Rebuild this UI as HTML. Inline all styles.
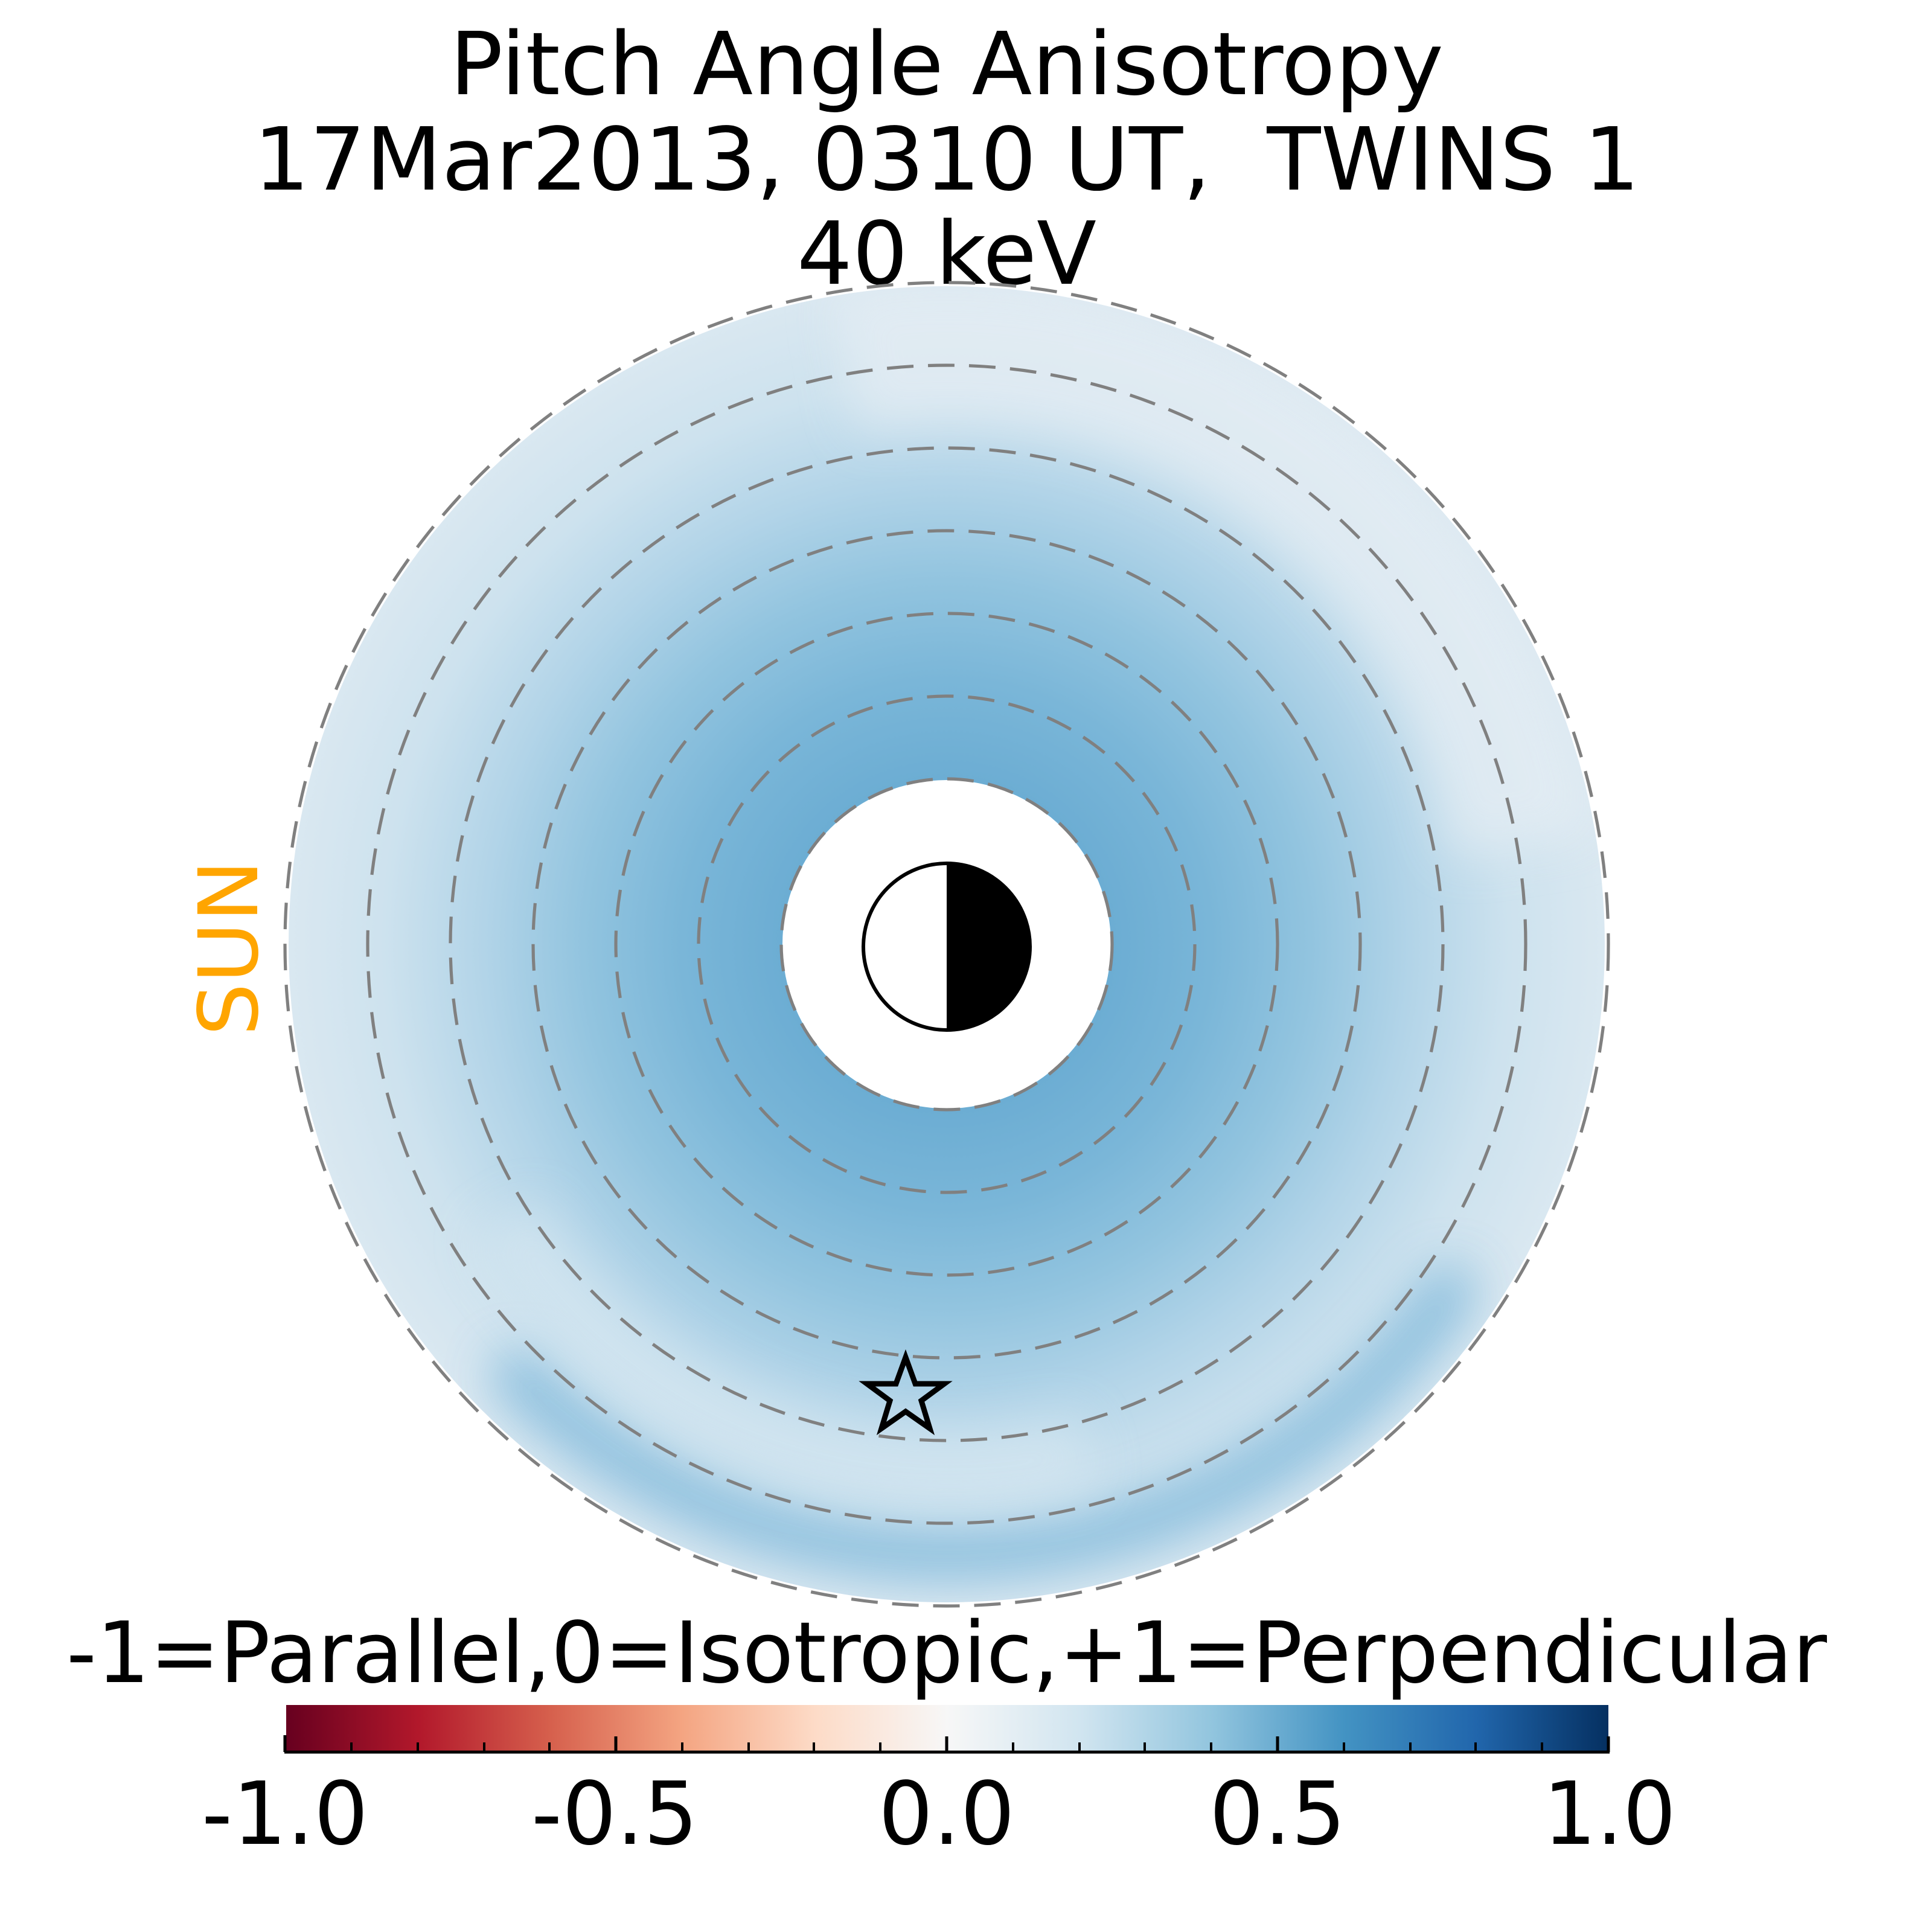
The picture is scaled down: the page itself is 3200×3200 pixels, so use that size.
<!DOCTYPE html>
<html><head><meta charset="utf-8"><style>
html,body{margin:0;padding:0;background:#fff;}
svg{display:block;}
text{font-family:"DejaVu Sans","Liberation Sans",sans-serif;fill:#000;}
</style></head><body>
<svg width="3200" height="3200" viewBox="0 0 1600 1600" xmlns="http://www.w3.org/2000/svg">
<defs>
<radialGradient id="rg" cx="784" cy="782" r="548" gradientUnits="userSpaceOnUse">
<stop offset="0.25" stop-color="#6cadd3"/>
<stop offset="0.40" stop-color="#7ab6d8"/>
<stop offset="0.55" stop-color="#92c4df"/>
<stop offset="0.70" stop-color="#b2d4e8"/>
<stop offset="0.85" stop-color="#cde2ee"/>
<stop offset="1" stop-color="#dae8f1"/>
</radialGradient>
<linearGradient id="cb" x1="0" x2="1" y1="0" y2="0">
<stop offset="0" stop-color="#67001f"/>
<stop offset="0.1" stop-color="#b2182b"/>
<stop offset="0.2" stop-color="#d6604d"/>
<stop offset="0.3" stop-color="#f4a582"/>
<stop offset="0.4" stop-color="#fddbc7"/>
<stop offset="0.5" stop-color="#f7f7f7"/>
<stop offset="0.6" stop-color="#d1e5f0"/>
<stop offset="0.7" stop-color="#92c5de"/>
<stop offset="0.8" stop-color="#4393c3"/>
<stop offset="0.9" stop-color="#2166ac"/>
<stop offset="1" stop-color="#053061"/>
</linearGradient>
<filter id="bl" x="-30%" y="-30%" width="160%" height="160%"><feGaussianBlur stdDeviation="20"/></filter>
<clipPath id="disk"><circle cx="784" cy="782" r="545"/></clipPath>
</defs>

<text x="784" y="78" font-size="72" text-anchor="middle" textLength="823" lengthAdjust="spacingAndGlyphs">Pitch Angle Anisotropy</text>
<text x="784" y="157" font-size="72" text-anchor="middle" textLength="1148" lengthAdjust="spacingAndGlyphs" xml:space="preserve">17Mar2013, 0310 UT,&#160; TWINS 1</text>
<text x="784" y="235" font-size="72" text-anchor="middle" textLength="248" lengthAdjust="spacingAndGlyphs">40 keV</text>

<circle cx="784" cy="782" r="545" fill="url(#rg)"/>
<g clip-path="url(#disk)">
<path d="M 430 1140 A 505 505 0 0 0 1200 1070" fill="none" stroke="#82badb" stroke-width="45" stroke-linecap="round" filter="url(#bl)" opacity="0.85"/>
<path d="M 700 300 A 480 480 0 0 1 1260 700" fill="none" stroke="#e6eef4" stroke-width="120" filter="url(#bl)" opacity="0.7"/>
<path d="M 420 1010 A 430 430 0 0 0 900 1200" fill="none" stroke="#d6e7f1" stroke-width="60" filter="url(#bl)" opacity="0.7"/>
</g>
<circle cx="784" cy="782" r="136" fill="#fff"/>

<g fill="none" stroke="#808080" stroke-width="2.6" stroke-dasharray="22,12">
<circle cx="784" cy="782" r="137"/>
<circle cx="784" cy="782" r="205.5"/>
<circle cx="784" cy="782" r="274"/>
<circle cx="784" cy="782" r="342.5"/>
<circle cx="784" cy="782" r="411"/>
<circle cx="784" cy="782" r="479.5"/>
<circle cx="784" cy="782" r="548"/>
</g>

<circle cx="784" cy="784" r="69" fill="#fff" stroke="#000" stroke-width="3"/>
<path d="M 784 715 A 69 69 0 0 1 784 853 Z" fill="#000"/>

<polygon points="750,1124 758,1146 782,1146 763,1160 770,1183 750,1169 730,1183 737,1160 718,1146 742,1146" fill="none" stroke="#000" stroke-width="4.5" stroke-linejoin="miter"/>

<text transform="translate(213,785) rotate(-90)" font-size="68" text-anchor="middle" style="fill:#ffa500" textLength="146" lengthAdjust="spacingAndGlyphs">SUN</text>

<text x="784" y="1393" font-size="70" text-anchor="middle" textLength="1458" lengthAdjust="spacingAndGlyphs">-1=Parallel,0=Isotropic,+1=Perpendicular</text>

<rect x="237" y="1412" width="1095" height="38" fill="url(#cb)"/>
<g stroke="#000" stroke-width="2.5">
<line x1="235.5" y1="1451" x2="1333" y2="1451"/>
<line x1="236" y1="1437" x2="236" y2="1451"/>
<line x1="510" y1="1438" x2="510" y2="1451"/>
<line x1="784" y1="1438" x2="784" y2="1451"/>
<line x1="1058" y1="1438" x2="1058" y2="1451"/>
<line x1="1332" y1="1438" x2="1332" y2="1451"/>
</g>
<g stroke="#000" stroke-width="2">
<line x1="291" y1="1443" x2="291" y2="1451"/><line x1="346" y1="1443" x2="346" y2="1451"/><line x1="401" y1="1443" x2="401" y2="1451"/><line x1="455" y1="1443" x2="455" y2="1451"/>
<line x1="565" y1="1443" x2="565" y2="1451"/><line x1="620" y1="1443" x2="620" y2="1451"/><line x1="674" y1="1443" x2="674" y2="1451"/><line x1="729" y1="1443" x2="729" y2="1451"/>
<line x1="839" y1="1443" x2="839" y2="1451"/><line x1="894" y1="1443" x2="894" y2="1451"/><line x1="948" y1="1443" x2="948" y2="1451"/><line x1="1003" y1="1443" x2="1003" y2="1451"/>
<line x1="1113" y1="1443" x2="1113" y2="1451"/><line x1="1168" y1="1443" x2="1168" y2="1451"/><line x1="1222" y1="1443" x2="1222" y2="1451"/><line x1="1277" y1="1443" x2="1277" y2="1451"/>
</g>
<g font-size="72" text-anchor="middle">
<text x="236" y="1527" textLength="138" lengthAdjust="spacingAndGlyphs">-1.0</text>
<text x="509" y="1527" textLength="138" lengthAdjust="spacingAndGlyphs">-0.5</text>
<text x="784" y="1527" textLength="113" lengthAdjust="spacingAndGlyphs">0.0</text>
<text x="1058" y="1527" textLength="113" lengthAdjust="spacingAndGlyphs">0.5</text>
<text x="1333" y="1527" textLength="110" lengthAdjust="spacingAndGlyphs">1.0</text>
</g>
</svg>
</body></html>
